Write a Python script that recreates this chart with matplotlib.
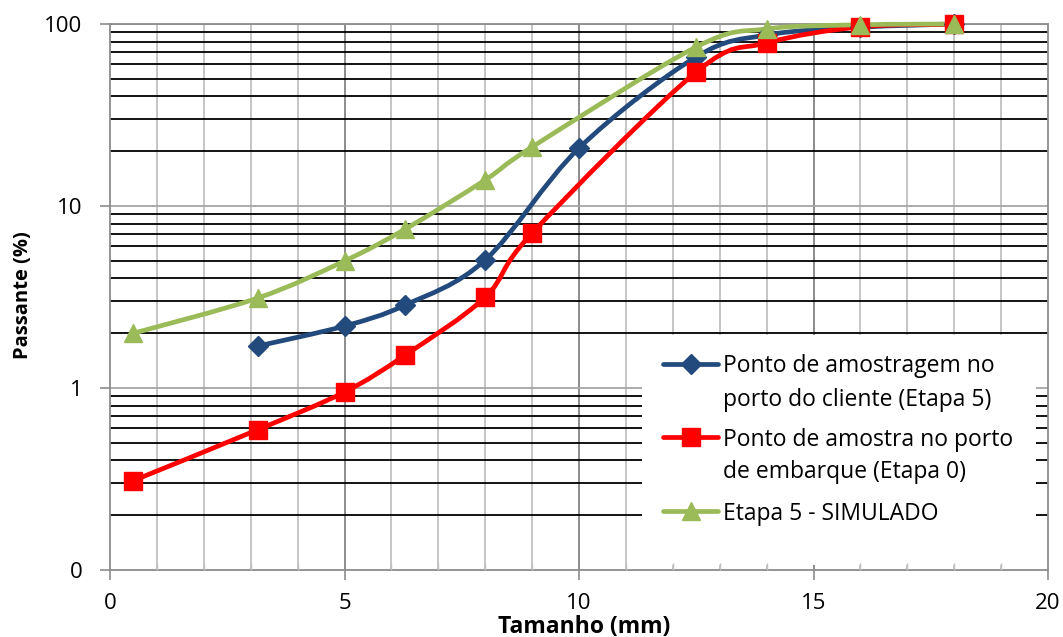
import numpy as np
import matplotlib
matplotlib.use("Agg")
import matplotlib.pyplot as plt
from matplotlib.path import Path
from matplotlib.patches import PathPatch, Rectangle
from matplotlib.lines import Line2D

plt.rcParams['font.family'] = ['Open Sans', 'DejaVu Sans']

# Particle size distribution (cumulative % passing) per sieve size in mm
sizes_client = [3.15, 5, 6.3, 8, 10, 12.5, 14, 16, 18]
passing_client = [1.70, 2.19, 2.86, 5.05, 20.8, 66.0, 87.0, 96.0, 100.0]

sizes_port = [0.5, 3.15, 5, 6.3, 8, 9, 12.5, 14, 16, 18]
passing_port = [0.31, 0.59, 0.95, 1.52, 3.16, 7.1, 54.5, 78.7, 96.5, 99.5]

sizes_sim = [0.5, 3.15, 5, 6.3, 8, 9, 12.5, 14, 16, 18]
passing_sim = [2.0, 3.12, 4.99, 7.48, 13.9, 21.1, 74.8, 94.0, 99.0, 100.0]

labels = [["Ponto de amostragem no", "porto do cliente (Etapa 5)"],
          ["Ponto de amostra no porto", "de embarque (Etapa 0)"],
          ["Etapa 5 - SIMULADO"]]
colors = ["#234A7D", "#FF0000", "#9BBB59"]
markers = ["D", "s", "^"]
marker_sizes = [10, 12.5, 13]

x_ticks = [0, 5, 10, 15, 20]
y_ticks = [0.1, 1, 10, 100]
y_tick_labels = ["0", "1", "10", "100"]

W, H = 1063, 637
AX_L, AX_R, AX_T, AX_B = 110, 1048, 24, 570


def smooth_path(xs, ys):
    """Cubic Bezier path through the points (smoothed in x / log10(y) space)."""
    p = np.column_stack([np.asarray(xs, float), np.log10(ys)])
    ext = np.vstack([p[0], p, p[-1]])
    verts = [p[0]]
    codes = [Path.MOVETO]
    for i in range(len(p) - 1):
        p0, p1, p2, p3 = ext[i], ext[i + 1], ext[i + 2], ext[i + 3]
        c1 = p1 + (p2 - p0) / 6.0
        c2 = p2 - (p3 - p1) / 6.0
        verts += [c1, c2, p2]
        codes += [Path.CURVE4] * 3
    verts = np.array(verts)
    verts[:, 1] = 10 ** verts[:, 1]
    return Path(verts, codes)


def ax_x(px):
    return (px - AX_L) / (AX_R - AX_L)


def ax_y(py):
    return (AX_B - py) / (AX_B - AX_T)


fig = plt.figure(figsize=(W / 100, H / 100), dpi=100)
ax = fig.add_axes([AX_L / W, 1 - AX_B / H, (AX_R - AX_L) / W, (AX_B - AX_T) / H])
ax.set_yscale('log')
ax.set_xlim(0, 20)
ax.set_ylim(0.1, 100)

# grid: light minor verticals, darker majors, black minor horizontals
for xv in range(1, 20):
    major = xv % 5 == 0
    ax.axvline(xv, color="#8C8C8C" if major else "#C0C0C0",
               lw=1.4 if major else 1.3, zorder=1)
for dec in [0.1, 1, 10]:
    for k in range(2, 10):
        ax.axhline(dec * k, color="black", lw=1.3, zorder=1)
for yv in [1, 10, 100]:
    ax.axhline(yv, color="#A6A6A6", lw=1.3, zorder=1)

series = [(sizes_client, passing_client), (sizes_port, passing_port), (sizes_sim, passing_sim)]
for (xs, ys), c, m, ms in zip(series, colors, markers, marker_sizes):
    ax.add_patch(PathPatch(smooth_path(xs, ys), fill=False, edgecolor=c,
                           lw=3.4, capstyle='round', joinstyle='round',
                           zorder=4, clip_on=False))
    ax.plot(xs, ys, linestyle='none', marker=m, color=c, markersize=ms,
            markeredgecolor=c, zorder=5, clip_on=False)

# legend panel: white box, keys and wrapped labels
ax.add_patch(Rectangle((ax_x(642), ax_y(565)), ax_x(1036) - ax_x(642),
                       ax_y(335) - ax_y(565), transform=ax.transAxes,
                       facecolor='white', edgecolor='none', zorder=2.5))
row_px = [[364, 397], [437, 470], [511]]
for rows, lab, c, m, ms in zip(row_px, labels, colors, markers, marker_sizes):
    y0 = ax_y(rows[0])
    ax.add_line(Line2D([ax_x(663), ax_x(718)], [y0, y0], transform=ax.transAxes,
                       color=c, lw=3.4, solid_capstyle='round', zorder=6))
    ax.add_line(Line2D([ax_x(690.5)], [y0], transform=ax.transAxes, color=c,
                       marker=m, markersize=ms, zorder=6))
    for r, txt in zip(rows, lab):
        ax.text(ax_x(723), ax_y(r + 8.5), txt, transform=ax.transAxes,
                fontsize=16.5, ha='left', va='baseline', zorder=6)

ax.set_xticks(x_ticks)
ax.set_xticklabels([str(t) for t in x_ticks])
ax.set_xticks(np.arange(0, 21, 1), minor=True)
ax.set_yticks(y_ticks)
ax.set_yticklabels(y_tick_labels)
ax.yaxis.set_minor_locator(matplotlib.ticker.NullLocator())

ax.tick_params(axis='both', which='major', labelsize=16, color="#8C8C8C",
               length=7, width=1.2, direction='out')
ax.tick_params(axis='x', which='major', pad=9.5)
ax.tick_params(axis='y', which='major', pad=13)
ax.tick_params(axis='x', which='minor', direction='in', length=5,
               color="#C0C0C0", width=1)
ax.xaxis.set_zorder(3.5)
ax.yaxis.set_zorder(3.5)

for s in ax.spines.values():
    s.set_color("#8C8C8C")
    s.set_linewidth(1.3)
    s.set_zorder(3.5)

fig.text(584 / W, 1 - 627 / H, "Tamanho (mm)", fontsize=16.5, fontweight='bold',
         ha='center', va='center')
fig.text(23 / W, 1 - 295 / H, "Passante (%)", fontsize=14.5, fontweight='bold',
         rotation=90, ha='center', va='center')

fig.savefig("out.png", dpi=100)
